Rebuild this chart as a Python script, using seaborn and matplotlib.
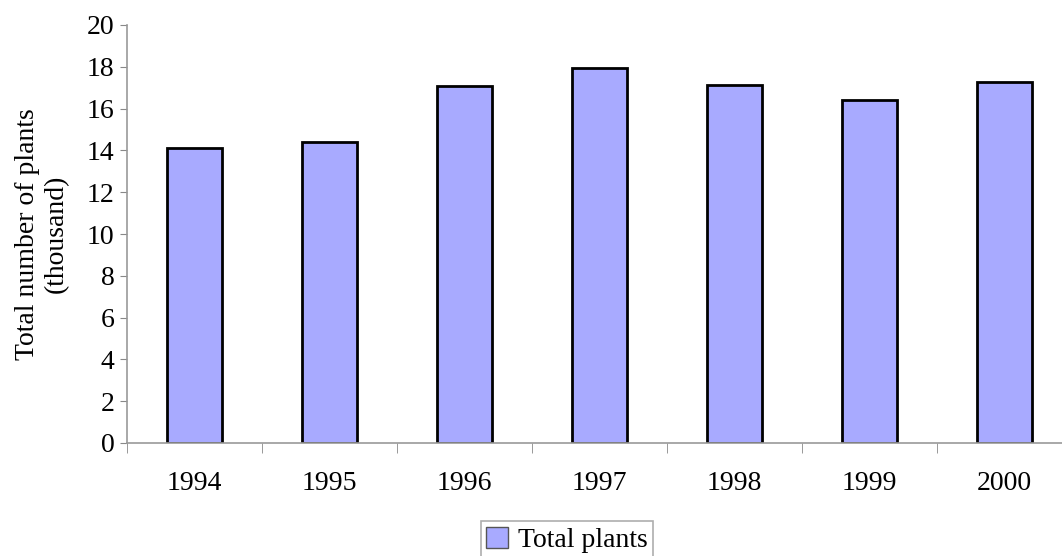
import pandas as pd
import matplotlib.pyplot as plt
from matplotlib.ticker import FixedLocator
import seaborn as sns

# Data
years = ["1994", "1995", "1996", "1997", "1998", "1999", "2000"]
total_plants = [14.1, 14.4, 17.08, 17.92, 17.12, 16.4, 17.28]

df = pd.DataFrame({"year": years, "plants": total_plants})

sns.set_style("white")
plt.rcParams["font.family"] = ["Liberation Serif", "DejaVu Serif"]
plt.rcParams["text.color"] = "black"
plt.rcParams["xtick.labelcolor"] = "black"
plt.rcParams["ytick.labelcolor"] = "black"
plt.rcParams["axes.labelcolor"] = "black"

fig = plt.figure(figsize=(10.62, 5.56), dpi=100)
ax = fig.add_axes([127 / 1062, 1 - 443 / 556, (1072 - 127) / 1062, (443 - 25) / 556])

sns.barplot(
    data=df,
    x="year",
    y="plants",
    color="#a8aaff",
    saturation=1,
    edgecolor="black",
    linewidth=2,
    width=0.41,
    label="Total plants",
    ax=ax,
)

ax.set_xlim(-0.5, len(years) - 0.5)
ax.set_ylim(0, 20)
ax.set_yticks(range(0, 21, 2))
ax.tick_params(axis="y", labelsize=20, length=5, color="#888888", direction="out", left=True, pad=4)
ax.tick_params(axis="x", which="major", labelsize=20, length=0, pad=20)
ax.xaxis.set_minor_locator(FixedLocator([i - 0.5 for i in range(len(years) + 1)]))
ax.tick_params(axis="x", which="minor", length=7, color="#888888", direction="out", bottom=True)

for side in ["top", "right"]:
    ax.spines[side].set_visible(False)
for side in ["left", "bottom"]:
    ax.spines[side].set_color("#999999")
    ax.spines[side].set_linewidth(1.2)

ax.set_xlabel("")
ax.set_ylabel("Total number of plants\n(thousand)", fontsize=20, linespacing=1.2, labelpad=13)

leg = ax.legend(
    loc="upper center",
    bbox_to_anchor=(567 / 1062, 1 - 521 / 556),
    bbox_transform=fig.transFigure,
    fontsize=20,
    frameon=True,
    fancybox=False,
    handlelength=0.8,
    handleheight=0.8,
    handletextpad=0.35,
    borderpad=0.2,
    borderaxespad=0,
)
leg.get_frame().set_edgecolor("#999999")
leg.get_frame().set_linewidth(1.2)
for h in leg.legend_handles:
    h.set_linewidth(1)
    h.set_edgecolor("#555555")

fig.savefig("out.png", dpi=100)
